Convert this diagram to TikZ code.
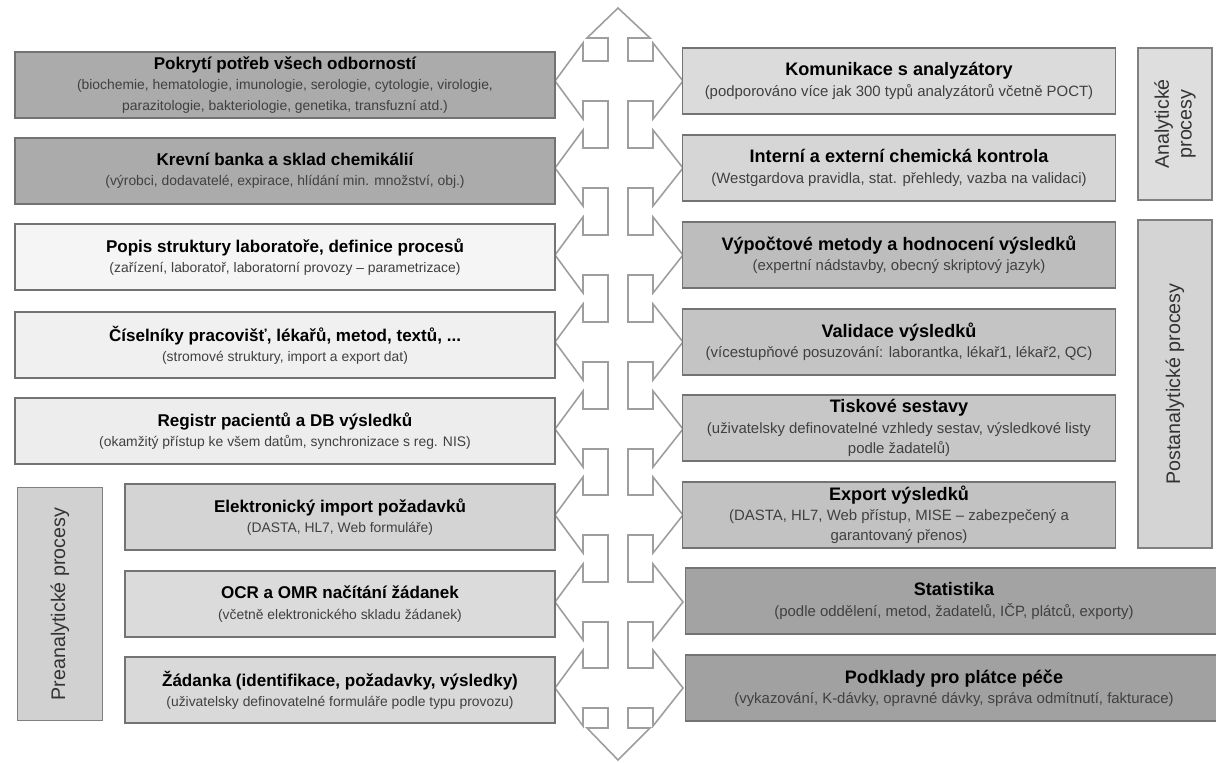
\documentclass[tikz,border=0pt]{standalone}
\usepackage{fontspec}
\setmainfont{Liberation Sans}
\newcommand{\nadpis}[2][9.7]{{\fontsize{#1}{11.5}\selectfont\bfseries #2}}
\newcommand{\pozn}[2][7.9]{{\fontsize{#1}{11.5}\selectfont\color{black!75}#2}}

\begin{document}
\begin{tikzpicture}[x=0.02cm,y=-0.02cm,
    modul/.style={draw=black!55,line width=0.7pt,minimum height=1.32cm,align=center,inner sep=1pt,
      font=\fontsize{8}{11.5}\selectfont},
    levy/.style={modul,minimum width=10.8cm},
    kratky/.style={modul,minimum width=8.6cm},
    pravy/.style={modul,minimum width=8.66cm},
    siroky/.style={modul,minimum width=10.74cm},
    faze/.style={draw=black!50,line width=0.7pt,rotate=90,align=center,text=black!80,
      font=\fontsize{11.2}{13}\selectfont},
    hub/.style={draw=black!38,line width=0.9pt,fill=white,line join=miter}]
            \useasboundingbox[fill=white] (0,0) rectangle (1216,763);

            % velka sipka uprostred
            \draw[hub] (618,8) -- (650,38) -- (628,38)
              foreach \r in {81,168,255,342,429,515,602,688} {
                -- (628,\r-20) -- (653,\r-20) -- (653,\r-38) -- (683,\r)
                -- (653,\r+38) -- (653,\r+20) -- (628,\r+20) }
              -- (628,728) -- (650,728) -- (618,760) -- (587,728) -- (608,728)
              foreach \r in {688,602,515,429,342,255,168,81} {
                -- (608,\r+20) -- (583,\r+20) -- (583,\r+38) -- (555,\r)
                -- (583,\r-38) -- (583,\r-20) -- (608,\r-20) }
              -- (608,38) -- (587,38) -- cycle;

            % leva strana
            \node[levy,fill=black!33] (pokryti) at (285,85)
              {\nadpis{Pokrytí potřeb všech odborností}\\
               \pozn{(biochemie, hematologie, imunologie, serologie, cytologie, virologie,}\\
               \pozn{parazitologie, bakteriologie, genetika, transfuzní atd.)}};
            \node[levy,fill=black!33] (banka) at (285,171)
              {\nadpis{Krevní banka a sklad chemikálií}\\
               \pozn{(výrobci, dodavatelé, expirace, hlídání min. množství, obj.)}};
            \node[levy,fill=black!4] (struktura) at (285,257)
              {\nadpis{Popis struktury laboratoře, definice procesů}\\
               \pozn{(zařízení, laboratoř, laboratorní provozy – parametrizace)}};
            \node[levy,fill=black!6] (ciselniky) at (285,345)
              {\nadpis{Číselníky pracovišť, lékařů, metod, textů, ...}\\
               \pozn{(stromové struktury, import a export dat)}};
            \node[levy,fill=black!7] (registr) at (285,431)
              {\nadpis{Registr pacientů a DB výsledků}\\
               \pozn{(okamžitý přístup ke všem datům, synchronizace s reg. NIS)}};
            \node[kratky,fill=black!17] (import) at (340,517)
              {\nadpis{Elektronický import požadavků}\\
               \pozn{(DASTA, HL7, Web formuláře)}};
            \node[kratky,fill=black!14] (ocr) at (340,604)
              {\nadpis{OCR a OMR načítání žádanek}\\
               \pozn{(včetně elektronického skladu žádanek)}};
            \node[kratky,fill=black!15] (zadanka) at (340,690)
              {\nadpis{Žádanka (identifikace, požadavky, výsledky)}\\
               \pozn{(uživatelsky definovatelné formuláře podle typu provozu)}};
            \node[faze,fill=black!18,minimum width=4.66cm,minimum height=1.7cm] (pre) at (60,604)
              {Preanalytické procesy};

            % prava strana
            \node[pravy,fill=black!14] (komunikace) at (899,81)
              {\nadpis[10.3]{Komunikace s analyzátory}\\
               \pozn[8.5]{(podporováno více jak 300 typů analyzátorů včetně POCT)}};
            \node[pravy,fill=black!16] (kontrola) at (899,168)
              {\nadpis[10.3]{Interní a externí chemická kontrola}\\
               \pozn[8.5]{(Westgardova pravidla, stat. přehledy, vazba na validaci)}};
            \node[pravy,fill=black!26] (vypocty) at (899,255)
              {\nadpis[10.3]{Výpočtové metody a hodnocení výsledků}\\
               \pozn[8.5]{(expertní nádstavby, obecný skriptový jazyk)}};
            \node[pravy,fill=black!23] (validace) at (899,342)
              {\nadpis[10.3]{Validace výsledků}\\
               \pozn[8.5]{(vícestupňové posuzování: laborantka, lékař1, lékař2, QC)}};
            \node[pravy,fill=black!22] (tisk) at (899,428)
              {\nadpis[10.3]{Tiskové sestavy}\\
               \pozn[8.5]{(uživatelsky definovatelné vzhledy sestav, výsledkové listy}\\
               \pozn[8.5]{podle žadatelů)}};
            \node[pravy,fill=black!24] (export) at (899,515)
              {\nadpis[10.3]{Export výsledků}\\
               \pozn[8.5]{(DASTA, HL7, Web přístup, MISE – zabezpečený a}\\
               \pozn[8.5]{garantovaný přenos)}};
            \node[siroky,fill=black!36] (statistika) at (954,601)
              {\nadpis[10.3]{Statistika}\\
               \pozn[8.5]{(podle oddělení, metod, žadatelů, IČP, plátců, exporty)}};
            \node[siroky,fill=black!37] (platci) at (954,688)
              {\nadpis[10.3]{Podklady pro plátce péče}\\
               \pozn[8.5]{(vykazování, K-dávky, opravné dávky, správa odmítnutí, fakturace)}};
            \node[faze,fill=black!13,minimum width=3.04cm,minimum height=1.48cm] (ana) at (1175,124)
              {Analytické\\procesy};
            \node[faze,fill=black!17,minimum width=6.56cm,minimum height=1.48cm] (post) at (1175,384)
              {Postanalytické procesy};
        \end{tikzpicture}
\end{document}
